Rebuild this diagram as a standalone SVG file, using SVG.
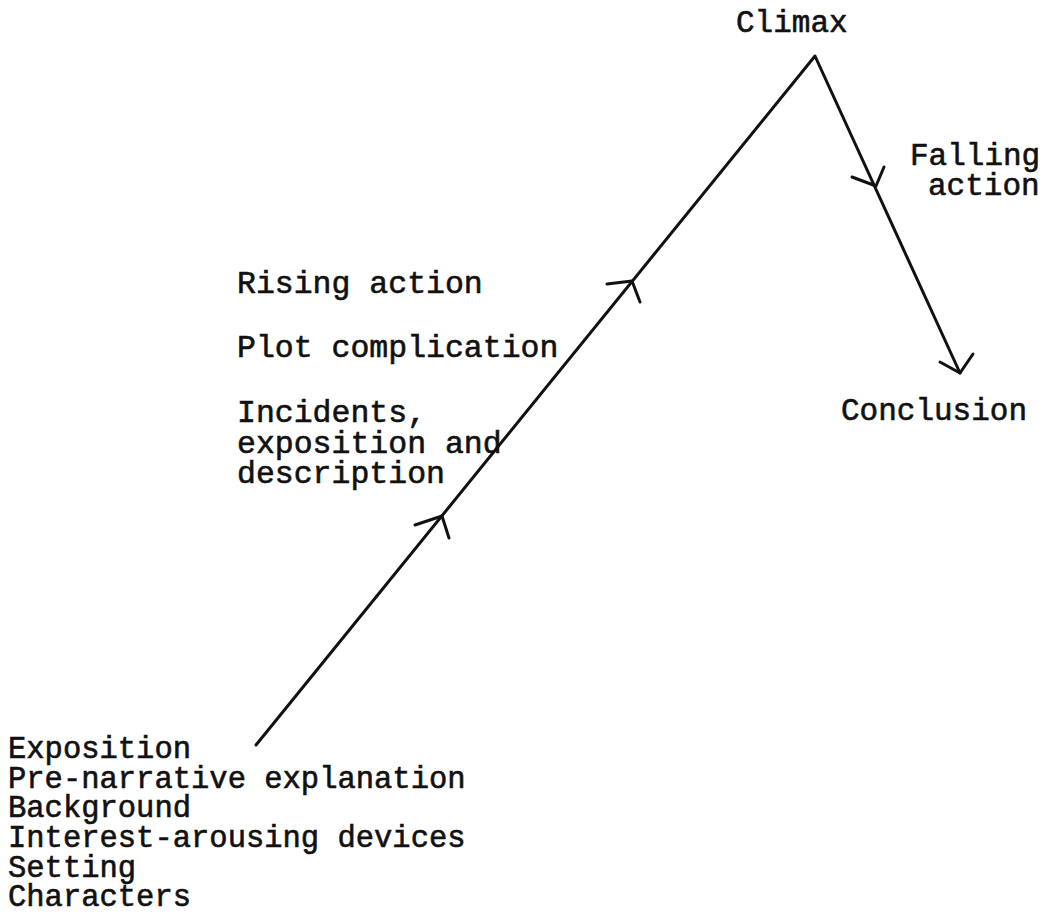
<svg xmlns="http://www.w3.org/2000/svg" width="1049" height="922" viewBox="0 0 1049 922">
  <style>
    .t { font-family: "Liberation Mono", "Courier New", monospace; font-size: 30.5px; fill: #111; stroke: #111; stroke-width: 0.6px; }
    .big { font-size: 31.5px; }
    .mid { font-size: 31px; }
    .ln { fill: none; stroke: #111; stroke-width: 3; stroke-linecap: round; stroke-linejoin: round; }
  </style>
  <rect width="1049" height="922" fill="#fff"/>
  <g id="connectors">
    <polyline class="ln" points="256,745 815,56 960,373"/>
    <polyline class="ln" points="607,284 632,281 640,302"/>
    <polyline class="ln" points="415,525 442,516 449,538"/>
    <polyline class="ln" points="852,177 876,186 884,167"/>
    <polyline class="ln" points="940,362 960,373 973,354"/>
  </g>
  <g id="climax"><text class="t mid" x="736" y="32">Climax</text></g>
  <g id="falling-action">
    <text class="t mid" x="910" y="165">Falling</text>
    <text class="t mid" x="928" y="195">action</text>
  </g>
  <g id="rising-action">
    <text class="t big" x="237" y="293">Rising action</text>
    <text class="t big" x="237" y="357">Plot complication</text>
    <text class="t big" x="237" y="422">Incidents,</text>
    <text class="t big" x="237" y="453">exposition and</text>
    <text class="t big" x="237" y="483">description</text>
  </g>
  <g id="conclusion"><text class="t mid" x="841" y="420">Conclusion</text></g>
  <g id="exposition">
    <text class="t" x="8" y="758">Exposition</text>
    <text class="t" x="8" y="788">Pre-narrative explanation</text>
    <text class="t" x="8" y="817">Background</text>
    <text class="t" x="8" y="847">Interest-arousing devices</text>
    <text class="t" x="8" y="877">Setting</text>
    <text class="t" x="8" y="906">Characters</text>
  </g>
</svg>
